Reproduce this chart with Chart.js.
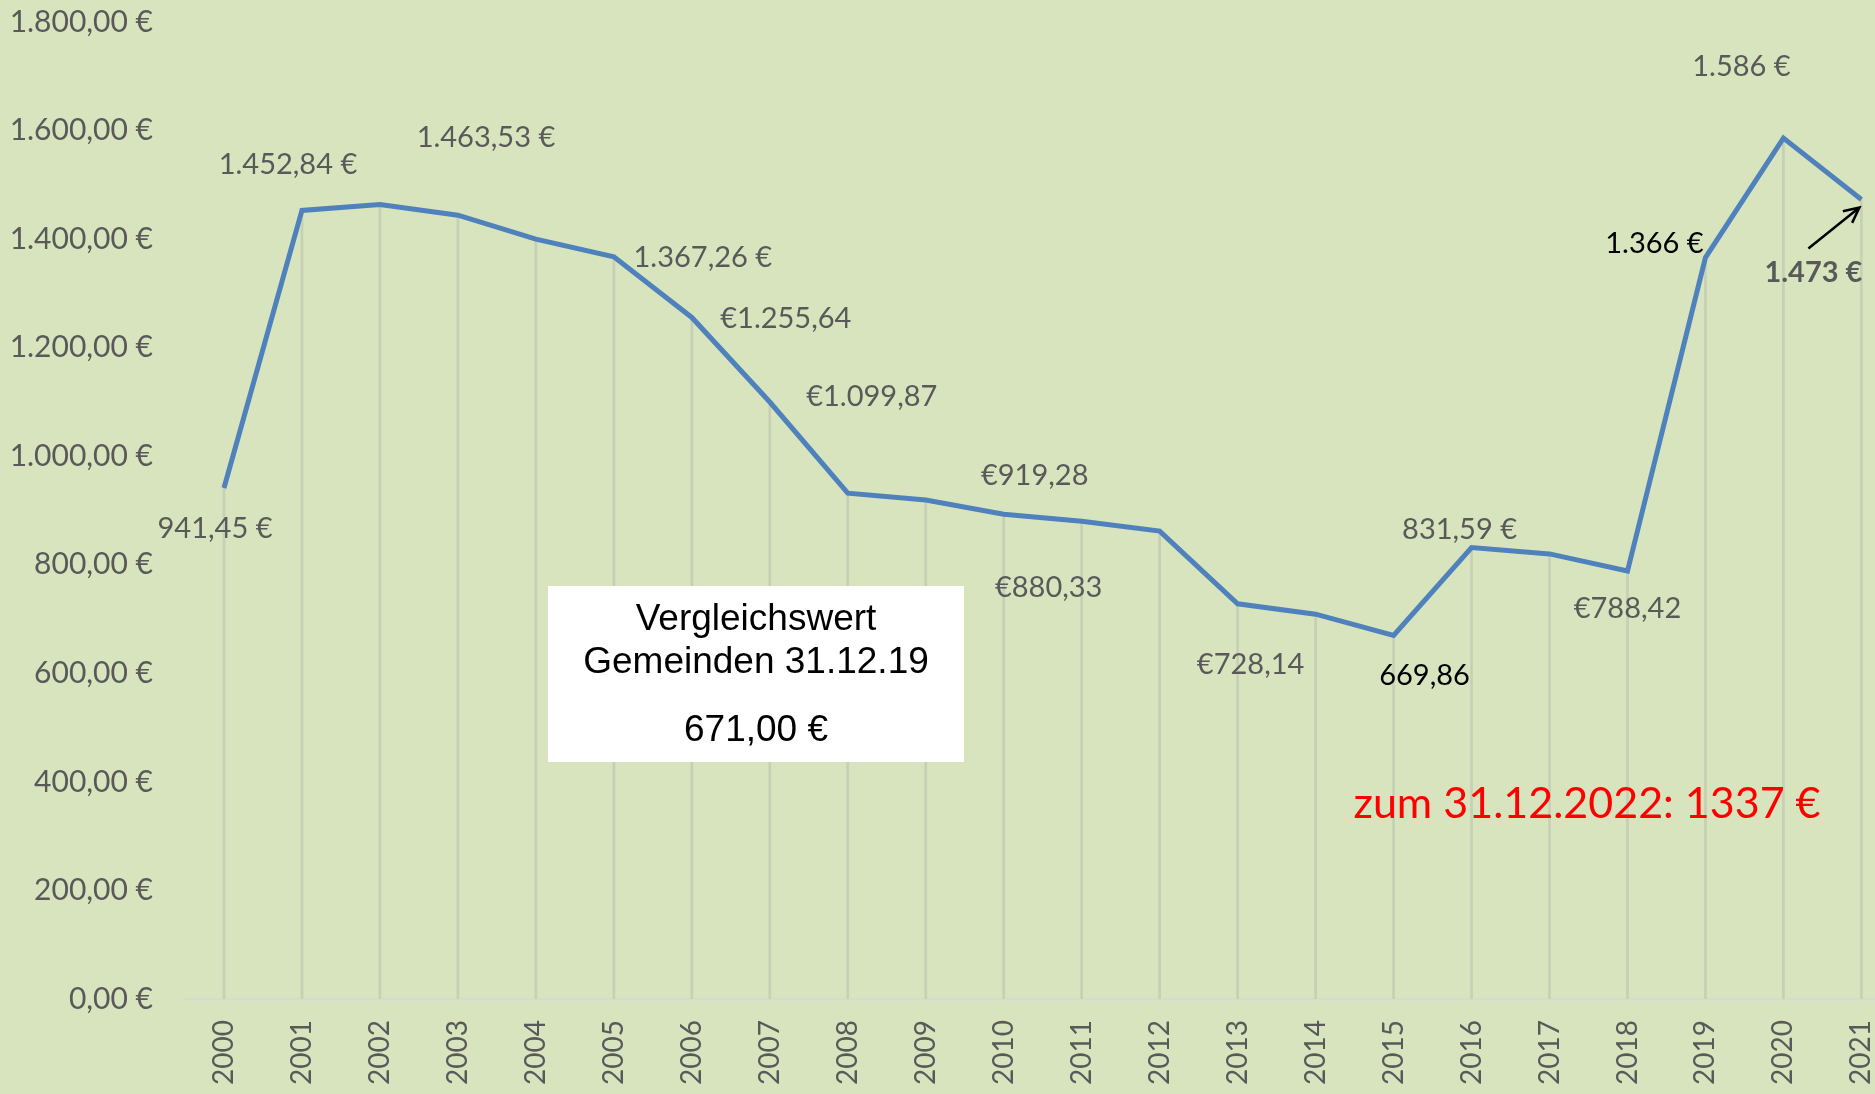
<!DOCTYPE html>
<html>
<head>
<meta charset="utf-8">
<script src="https://cdn.jsdelivr.net/npm/chart.js@4.4.1/dist/chart.umd.min.js"></script>
<style>
  html, body { margin: 0; padding: 0; background: #d7e4bd; overflow: hidden; }
  #wrap { width: 1875px; height: 1094px; overflow: hidden; }
  #box { width: 1916px; height: 1122px; margin-top: -28px; }
</style>
</head>
<body>
<div id="wrap"><div id="box"><canvas id="chart"></canvas></div></div>
<script>
// Jahre und Werte (Euro)
const jahre = ['2000','2001','2002','2003','2004','2005','2006','2007','2008','2009','2010',
               '2011','2012','2013','2014','2015','2016','2017','2018','2019','2020','2021'];
const werte = [941.45, 1452.84, 1463.53, 1444, 1400, 1367.26, 1255.64, 1099.87, 932, 919.28, 893,
               880.33, 862, 728.14, 709, 669.86, 831.59, 820, 788.42, 1366, 1586, 1473];
// Beschriftungen an den Punkten (null = keine)
const beschriftung = ['941,45 €','1.452,84 €','1.463,53 €',null,null,'1.367,26 €','€1.255,64','€1.099,87',null,'€919,28',null,
                      '€880,33',null,'€728,14',null,'669,86','831,59 €',null,'€788,42','1.366 €','1.586 €','1.473 €'];
const yTicks = [0, 200, 400, 600, 800, 1000, 1200, 1400, 1600, 1800];
const boxText = ['Vergleichswert', 'Gemeinden 31.12.19', '671,00 €'];
const hinweis = 'zum 31.12.2022: 1337 €';

// Versatz der Beschriftungen (px), Farbe, fett
const labelStyle = {
    0: [-9, 41], 1: [-14, -46], 2: [106, -67], 5: [89, 1], 6: [94, 1], 7: [102, -5],
    9: [109, -24], 11: [-33, 66], 13: [13, 61], 15: [31, 40, '#000'], 16: [-12, -18],
    18: [0, 38], 19: [-51, -14, '#000'], 20: [-42, -72], 21: [-48, 73, '#595959', true]
};
const SHIFT = 28; // Canvas ist um 28px nach oben verschoben

function euro(v) {
    let s = v.toFixed(2).split('.');
    let ganz = s[0].replace(/\B(?=(\d{3})+(?!\d))/g, '.');
    return ganz + ',' + s[1] + ' €';
}

const extras = {
    id: 'extras',
    beforeDraw(chart) {
        const ctx = chart.ctx;
        ctx.save();
        ctx.fillStyle = '#d7e4bd';
        ctx.fillRect(0, 0, chart.width, chart.height);
        ctx.restore();
    },
    afterDatasetsDraw(chart) {
        const ctx = chart.ctx;
        const meta = chart.getDatasetMeta(1);
        ctx.save();
        ctx.textAlign = 'center';
        ctx.textBaseline = 'middle';
        beschriftung.forEach((txt, i) => {
            if (!txt) return;
            const st = labelStyle[i] || [0, -30];
            const p = meta.data[i];
            ctx.fillStyle = st[2] || '#595959';
            ctx.font = (st[3] ? 'bold ' : '') + '29px Lato';
            ctx.fillText(txt, p.x + st[0], p.y + st[1]);
        });
        // Pfeil zum letzten Punkt
        const last = meta.data[meta.data.length - 1];
        const x1 = last.x - 53, y1 = last.y + 49, x2 = last.x - 2, y2 = last.y + 8;
        ctx.strokeStyle = '#000';
        ctx.lineWidth = 2.5;
        ctx.beginPath();
        ctx.moveTo(x1, y1);
        ctx.lineTo(x2, y2);
        const a = Math.atan2(y2 - y1, x2 - x1);
        ctx.moveTo(x2 - 17 * Math.cos(a - 0.45), y2 - 17 * Math.sin(a - 0.45));
        ctx.lineTo(x2, y2);
        ctx.lineTo(x2 - 17 * Math.cos(a + 0.45), y2 - 17 * Math.sin(a + 0.45));
        ctx.stroke();

        // weisser Kasten
        ctx.fillStyle = '#ffffff';
        ctx.fillRect(548, 586 + SHIFT, 416, 176);
        ctx.fillStyle = '#000';
        ctx.font = '37px "Liberation Sans", Arial';
        ctx.fillText(boxText[0], 756, 620 + SHIFT);
        ctx.fillText(boxText[1], 756, 663 + SHIFT);
        ctx.fillText(boxText[2], 756, 731 + SHIFT);

        // roter Hinweis
        ctx.fillStyle = '#ff0000';
        ctx.font = '43px Lato';
        ctx.fillText(hinweis, 1587, 804 + SHIFT);
        ctx.restore();
    }
};

new Chart(document.getElementById('chart'), {
    data: {
        labels: jahre,
        datasets: [
            {
                type: 'bar', // Fallinien
                data: werte,
                backgroundColor: '#c7cfb6',
                barThickness: 2,
                order: 2
            },
            {
                type: 'line',
                data: werte,
                borderColor: '#4f81bd',
                borderWidth: 5,
                pointRadius: 0,
                tension: 0,
                fill: false,
                order: 1
            }
        ]
    },
    options: {
        responsive: true,
        maintainAspectRatio: false,
        animation: false,
        layout: { padding: 0 },
        scales: {
            x: {
                offset: true,
                afterFit(scale) { scale.height = 95; },
                grid: { display: false, drawTicks: false },
                border: { display: true, color: '#d8dacd', width: 2.5 },
                ticks: {
                    color: '#595959',
                    font: { family: 'Lato', size: 28 },
                    maxRotation: 90,
                    minRotation: 90,
                    padding: 21
                }
            },
            y: {
                min: 0,
                max: 1800,
                afterFit(scale) { scale.width = 185; },
                afterBuildTicks(scale) { scale.ticks = yTicks.map(v => ({ value: v })); },
                grid: { display: false, drawTicks: false },
                border: { display: false },
                ticks: {
                    color: '#595959',
                    font: { family: 'Lato', size: 30 },
                    padding: 32,
                    callback: (v) => euro(v)
                }
            }
        },
        plugins: {
            legend: { display: false },
            tooltip: { enabled: false }
        }
    },
    plugins: [extras]
});
</script>
</body>
</html>
